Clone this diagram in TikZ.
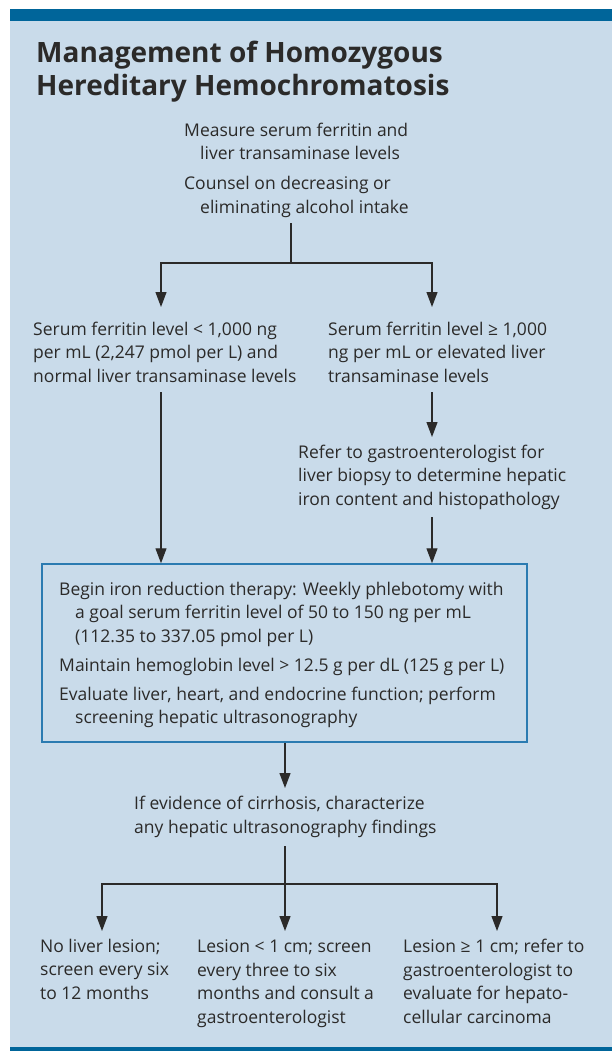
\documentclass[tikz,border=0pt]{standalone}
\usepackage{fontspec}
\setmainfont{Open Sans}
\usetikzlibrary{arrows.meta}
\definecolor{bandblue}{HTML}{00659A}
\definecolor{panelblue}{HTML}{C9DBEA}
\definecolor{boxblue}{HTML}{2B7BB1}
\definecolor{inkgray}{HTML}{2B2A29}
\tikzset{
  % base anchor of a multi-line node sits on its last line
  steptext/.style={anchor=base west, inner sep=0pt, align=left, text=inkgray,
    font=\fontsize{17.5}{23.4}\selectfont},
  flow/.style={line width=1.2pt, draw=inkgray},
  flowarrow/.style={flow, -{Triangle[length=15pt,width=11pt]}},
}
\newcommand{\ind}{\hspace*{16pt}}
\begin{document}
\begin{tikzpicture}[x=1pt, y=-1pt]
    \useasboundingbox (0,0) rectangle (612,1051);
    % panel and bands
    \fill[panelblue] (10,21) rectangle (612,1047);
    \fill[bandblue] (10,9) rectangle (612,21);
    \fill[bandblue] (10,1047) rectangle (612,1051);
    % title
    \node[anchor=base west, inner sep=0pt, align=left, text=inkgray,
      font=\fontsize{28}{32.5}\bfseries\selectfont] (title) at (36,95.5)
      {Management of Homozygous\\Hereditary Hemochromatosis};
    % steps
    \node[steptext] (measure) at (184,213) {Measure serum ferritin and\\\ind liver transaminase levels\\[6.6pt]Counsel on decreasing or\\\ind eliminating alcohol intake};
    \node[steptext] (low) at (33,382) {Serum ferritin level < 1,000 ng\\per mL (2,247 pmol per L) and\\normal liver transaminase levels};
    \node[steptext] (high) at (328,382) {Serum ferritin level ≥ 1,000\\ng per mL or elevated liver\\transaminase levels};
    \node[steptext] (refer) at (298,505) {Refer to gastroenterologist for\\liver biopsy to determine hepatic\\iron content and histopathology};
    \node[draw=boxblue, line width=1.5pt, minimum width=485pt, minimum height=178pt, inner sep=0pt] (box) at (284.5,653) {};
    \node[steptext] (therapy) at (59,723.5) {Begin iron reduction therapy: Weekly phlebotomy with\\\ind a goal serum ferritin level of 50 to 150 ng per mL\\\ind (112.35 to 337.05 pmol per L)\\[5.6pt]Maintain hemoglobin level > 12.5 g per dL (125 g per L)\\[5.6pt]Evaluate liver, heart, and endocrine function; perform\\\ind screening hepatic ultrasonography};
    \node[steptext] (cirrhosis) at (134,833) {If evidence of cirrhosis, characterize\\any hepatic ultrasonography findings};
    \node[steptext] (nolesion) at (40,999) {No liver lesion;\\screen every six\\to 12 months};
    \node[steptext] (small) at (197,1023) {Lesion < 1 cm; screen\\every three to six\\months and consult a\\gastroenterologist};
    \node[steptext] (large) at (403,1023) {Lesion ≥ 1 cm; refer to\\gastroenterologist to\\evaluate for hepato-\\cellular carcinoma};
    % connectors
    \coordinate (m-out) at (291,223);
    \coordinate (split1) at (291,263);
    \coordinate (low-in) at (161,307);
    \coordinate (high-in) at (432,307);
    \coordinate (low-out) at (161,392);
    \coordinate (high-out) at (432,392);
    \coordinate (refer-in) at (432,437);
    \coordinate (refer-out) at (432,517);
    \coordinate (cirr-in) at (285,788);
    \coordinate (cirr-out) at (285,846);
    \coordinate (split2) at (285,884);
    \draw[flow] (m-out) -- (split1);
    \draw[flowarrow] (split1) -| (low-in);
    \draw[flowarrow] (split1) -| (high-in);
    \draw[flowarrow] (low-out) -- (low-out |- box.north);
    \draw[flowarrow] (high-out) -- (refer-in);
    \draw[flowarrow] (refer-out) -- (refer-out |- box.north);
    \draw[flowarrow] (box.south -| cirr-in) -- (cirr-in);
    \draw[flow] (cirr-out) -- (split2);
    \foreach \x in {102,285,497} {
        \draw[flowarrow] (split2) -| (\x,931);
    }
\end{tikzpicture}
\end{document}
